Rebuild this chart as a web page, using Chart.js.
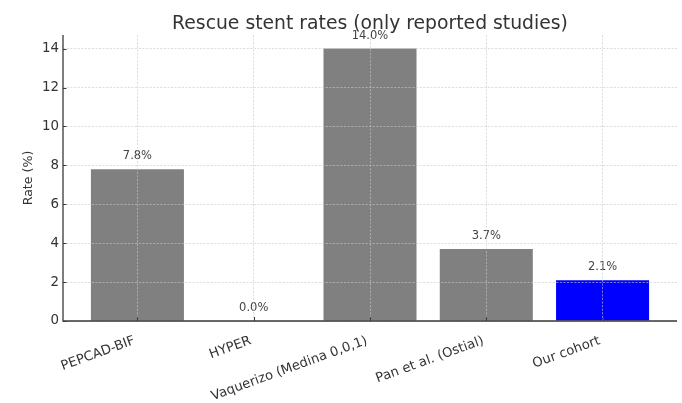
<!DOCTYPE html>
<html>
<head>
<meta charset="utf-8">
<script src="https://cdn.jsdelivr.net/npm/chart.js@4/dist/chart.umd.min.js"></script>
<style>
  html, body { margin: 0; padding: 0; background: #fff; }
  #wrap { width: 682px; height: 403px; }
</style>
</head>
<body>
<div id="wrap"><canvas id="c" width="682" height="403"></canvas></div>
<script>
// Study names and their reported rescue stent rates (%)
const studies = ['PEPCAD-BIF', 'HYPER', 'Vaquerizo (Medina 0,0,1)', 'Pan et al. (Ostial)', 'Our cohort'];
const rates = [7.8, 0.0, 14.0, 3.7, 2.1];
const barColors = ['#808080', '#808080', '#808080', '#808080', '#0000ff'];
const yTicks = [0, 2, 4, 6, 8, 10, 12, 14];
const titleText = 'Rescue stent rates (only reported studies)';

const FONT = "'DejaVu Sans', sans-serif";
const gridColor = 'rgba(200,200,200,0.75)';
const axisColor = '#3a3a3a';

// Title centred over the plotting area
const plotTitle = {
  id: 'plotTitle',
  afterDraw(chart) {
    const { ctx, chartArea } = chart;
    ctx.save();
    ctx.font = '18.8px ' + FONT;
    ctx.fillStyle = '#333';
    ctx.textAlign = 'center';
    ctx.textBaseline = 'alphabetic';
    ctx.fillText(titleText, (chartArea.left + chartArea.right) / 2, 29);
    ctx.restore();
  }
};

// Percentage labels above each bar
const valueLabels = {
  id: 'valueLabels',
  afterDatasetsDraw(chart) {
    const ctx = chart.ctx;
    const meta = chart.getDatasetMeta(0);
    ctx.save();
    ctx.font = '11.5px ' + FONT;
    ctx.fillStyle = '#444';
    ctx.textAlign = 'center';
    ctx.textBaseline = 'alphabetic';
    meta.data.forEach((bar, i) => {
      ctx.fillText(rates[i].toFixed(1) + '%', bar.x, bar.y - 10);
    });
    ctx.restore();
  }
};

// Left and bottom spines with inward tick marks
const spines = {
  id: 'spines',
  afterDraw(chart) {
    const { ctx, chartArea } = chart;
    const xs = chart.scales.x, ys = chart.scales.y;
    ctx.save();
    ctx.strokeStyle = axisColor;
    ctx.lineWidth = 1.3;
    ctx.beginPath();
    ctx.moveTo(chartArea.left, chartArea.top);
    ctx.lineTo(chartArea.left, chartArea.bottom);
    ctx.lineTo(chartArea.right, chartArea.bottom);
    ctx.stroke();
    ctx.lineWidth = 1;
    ctx.beginPath();
    xs.ticks.forEach(t => {
      const px = Math.round(xs.getPixelForValue(t.value)) + 0.5;
      ctx.moveTo(px, chartArea.bottom);
      ctx.lineTo(px, chartArea.bottom - 4);
    });
    ys.ticks.forEach(t => {
      const py = Math.round(ys.getPixelForValue(t.value)) + 0.5;
      ctx.moveTo(chartArea.left, py);
      ctx.lineTo(chartArea.left + 3.5, py);
    });
    ctx.stroke();
    ctx.restore();
  }
};

const gridOpts = {
  z: 1,
  color: gridColor,
  lineWidth: 0.8,
  drawTicks: false,
  offset: false
};
const borderOpts = { display: false, dash: [2.2, 1.4] };

new Chart(document.getElementById('c'), {
  type: 'bar',
  data: {
    datasets: [{
      data: studies.map((s, i) => ({ x: i, y: rates[i] })),
      backgroundColor: barColors,
      borderWidth: 0,
      barPercentage: 0.8,
      categoryPercentage: 1.0
    }]
  },
  options: {
    responsive: false,
    animation: false,
    devicePixelRatio: 1,
    layout: { padding: { left: 0, right: 5, top: 35, bottom: 0 } },
    plugins: {
      legend: { display: false },
      tooltip: { enabled: false },
      title: { display: false }
    },
    scales: {
      x: {
        type: 'linear',
        offset: false,
        min: -0.64,
        max: 4.64,
        afterBuildTicks(scale) {
          scale.ticks = studies.map((s, i) => ({ value: i }));
        },
        afterFit(scale) { scale.height = 82; },
        ticks: {
          callback: (v) => studies[v],
          autoSkip: false,
          minRotation: 20,
          maxRotation: 20,
          color: '#333',
          font: { family: FONT, size: 13.2 },
          padding: 12,
          labelOffset: -3
        },
        grid: gridOpts,
        border: borderOpts
      },
      y: {
        min: 0,
        max: 14.7,
        afterBuildTicks(scale) {
          scale.ticks = yTicks.map(v => ({ value: v }));
        },
        afterFit(scale) { scale.width = 63; },
        title: {
          display: true,
          text: 'Rate (%)',
          color: '#333',
          font: { family: FONT, size: 12.6 },
          padding: { top: 21, bottom: 0 }
        },
        ticks: {
          color: '#333',
          font: { family: FONT, size: 13.4 },
          padding: 4
        },
        grid: gridOpts,
        border: borderOpts
      }
    }
  },
  plugins: [valueLabels, spines, plotTitle]
});
</script>
</body>
</html>
